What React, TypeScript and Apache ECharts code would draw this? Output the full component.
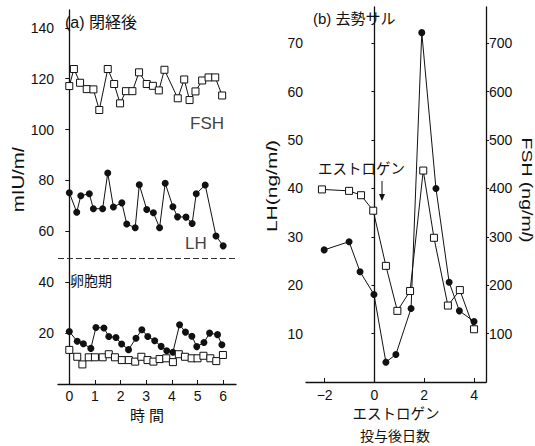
import React, { useEffect, useRef } from "react";
import * as echarts from "echarts";

// (a) post-menopause, hours
const postFshTime = [0, 0.18, 0.42, 0.68, 0.94, 1.17, 1.5, 1.75, 1.98, 2.21, 2.46, 2.72, 3.02, 3.26, 3.49, 3.71, 4.23, 4.48, 4.69, 4.92, 5.18, 5.43, 5.69, 5.96];
const postFshVals = [117.1, 123.8, 118.4, 115.9, 115.8, 107.7, 123.8, 117.9, 110.3, 115.1, 115.1, 122.5, 117.9, 117.2, 115.4, 123.5, 112.3, 119.7, 111.6, 115, 119.3, 120.5, 120.5, 113.4];
const postLhTime = [0, 0.29, 0.45, 0.78, 0.94, 1.3, 1.5, 1.72, 2.05, 2.24, 2.57, 2.73, 3.02, 3.28, 3.52, 3.74, 4.04, 4.22, 4.55, 4.79, 4.95, 5.3, 5.72, 6.0];
const postLhVals = [75.2, 67.5, 74.0, 74.8, 68.9, 68.9, 82.9, 69.6, 71.2, 62.9, 61.4, 78.3, 68.6, 67.3, 61.4, 78.9, 69.7, 65.7, 65.6, 63.1, 74.8, 78.2, 58.2, 54.3];
// (a) follicular phase
const follLhTime = [0, 0.31, 0.55, 0.84, 1.04, 1.35, 1.54, 1.82, 2.04, 2.31, 2.6, 2.83, 3.06, 3.33, 3.58, 3.8, 4.04, 4.3, 4.53, 4.78, 4.97, 5.25, 5.47, 5.78, 5.95];
const follLhVals = [20.6, 16.8, 15.8, 14.0, 22.2, 22.0, 18.7, 18.3, 15.7, 13.5, 18.0, 21.3, 18.7, 17.0, 14.8, 13.1, 12.5, 23.3, 20.4, 18.8, 14.7, 16.3, 20.0, 19.4, 15.4];
const follFshTime = [0, 0.31, 0.51, 0.76, 1.0, 1.3, 1.54, 1.78, 2.05, 2.32, 2.57, 2.81, 3.05, 3.28, 3.52, 3.78, 4.04, 4.27, 4.51, 4.77, 5.0, 5.23, 5.5, 5.73, 5.99];
const follFshVals = [13.4, 10.7, 7.7, 10.5, 10.5, 10.5, 11.7, 10.5, 9.4, 9.4, 8.8, 10.7, 9.4, 8.8, 9.8, 10.1, 8.6, 11.7, 10.7, 10.1, 10.1, 11.1, 10.1, 9.0, 11.4];
const breakLineValue = 49.5;
const leftXTicks = [0, 1, 2, 3, 4, 5, 6];
const leftYTicks = [20, 40, 60, 80, 100, 120, 140];

// (b) castrated monkey, days after estrogen
const castLhDays = [-2.02, -1.02, -0.58, -0.02, 0.46, 0.86, 1.47, 1.9, 2.47, 3.0, 3.41, 4.0];
const castLhVals = [27.3, 29.0, 22.8, 18.1, 4.1, 5.7, 15.2, 72.2, 40.0, 20.6, 14.7, 12.5];
const castFshDays = [-2.11, -1.02, -0.54, -0.05, 0.46, 0.92, 1.43, 1.96, 2.39, 2.95, 3.43, 4.0];
const castFshVals = [398, 395, 386, 354, 240, 147, 188, 437, 298, 158, 190, 109];
const rightXTicks = [-2, 0, 2, 4];
const lhTicks = [10, 20, 30, 40, 50, 60, 70];
const fshTicks = [100, 200, 300, 400, 500, 600, 700];

const NUM_FONT = "'Liberation Sans', Arial, sans-serif";
const JP_FONT = "'Liberation Sans', 'Noto Sans CJK JP', sans-serif";
const CJK_FONT = "'Noto Sans CJK JP', sans-serif";
const INK = "#111";

const pair = (xs: number[], ys: number[]) => xs.map((x, i) => [x, ys[i]]);

const circleSeries = (name: string, data: number[][], xAxisIndex: number, yAxisIndex: number) => ({
  name,
  type: "line",
  xAxisIndex,
  yAxisIndex,
  data,
  symbol: "circle",
  symbolSize: 7,
  itemStyle: { color: INK },
  lineStyle: { color: INK, width: 1 },
  z: 3,
});

const squareSeries = (name: string, data: number[][], xAxisIndex: number, yAxisIndex: number, extra: any = {}) => ({
  name,
  type: "line",
  xAxisIndex,
  yAxisIndex,
  data,
  symbol: "rect",
  symbolSize: 7,
  showAllSymbol: true,
  itemStyle: { color: "#fff", borderColor: INK, borderWidth: 1 },
  lineStyle: { color: INK, width: 1 },
  z: 4,
  ...extra,
});

const axisLine = { show: true, lineStyle: { color: INK, width: 1.3 } };

export default function App() {
  const ref = useRef<HTMLDivElement>(null);
  useEffect(() => {
    const chart = echarts.init(ref.current!, null, { renderer: "svg" });
    const option: any = {
      animation: false,
      backgroundColor: "#fff",
      grid: [
        { left: 58, top: 10, width: 178, height: 374 },
        { left: 306, top: 7, width: 180, height: 375 },
      ],
      xAxis: [
        {
          type: "value",
          gridIndex: 0,
          min: -0.44,
          max: 6.5,
          axisLine,
          axisTick: { show: true, inside: true, length: 4, customValues: leftXTicks, lineStyle: { color: INK } },
          axisLabel: { customValues: leftXTicks, fontSize: 14, margin: 5, color: INK, fontFamily: NUM_FONT },
          splitLine: { show: false },
        },
        {
          type: "value",
          gridIndex: 1,
          min: -2.75,
          max: 4.48,
          axisLine,
          axisTick: { show: true, inside: true, length: 4, customValues: rightXTicks, lineStyle: { color: INK } },
          axisLabel: {
            customValues: rightXTicks,
            fontSize: 14,
            margin: 6,
            color: INK,
            fontFamily: NUM_FONT,
            formatter: (v: number) => (v < 0 ? "\u2212" + Math.abs(v) : String(v)),
          },
          splitLine: { show: false },
        },
      ],
      yAxis: [
        {
          type: "value",
          gridIndex: 0,
          min: 0,
          max: 147,
          axisLine,
          axisTick: { show: true, length: 4, customValues: leftYTicks, lineStyle: { color: INK } },
          axisLabel: { customValues: leftYTicks, fontSize: 14, margin: 4, color: INK, fontFamily: NUM_FONT },
          splitLine: { show: false },
        },
        {
          type: "value",
          gridIndex: 1,
          position: "left",
          min: 0,
          max: 77.5,
          axisLine,
          axisTick: { show: true, length: 3, customValues: lhTicks, lineStyle: { color: INK } },
          axisLabel: { customValues: lhTicks, fontSize: 14, margin: 3, color: INK, fontFamily: NUM_FONT },
          splitLine: { show: false },
        },
        {
          type: "value",
          gridIndex: 1,
          position: "right",
          min: 0,
          max: 775,
          axisLine,
          axisTick: { show: true, length: 3, customValues: fshTicks, lineStyle: { color: INK } },
          axisLabel: { customValues: fshTicks, fontSize: 14, margin: 3, color: INK, fontFamily: NUM_FONT },
          splitLine: { show: false },
        },
      ],
      series: [
        squareSeries("FSH 閉経後", pair(postFshTime, postFshVals), 0, 0),
        circleSeries("LH 閉経後", pair(postLhTime, postLhVals), 0, 0),
        circleSeries("LH 卵胞期", pair(follLhTime, follLhVals), 0, 0),
        squareSeries("FSH 卵胞期", pair(follFshTime, follFshVals), 0, 0, {
          markLine: {
            silent: true,
            symbol: ["none", "none"],
            label: { show: false },
            lineStyle: { color: "#333", width: 1, type: [6, 3] },
            data: [{ yAxis: breakLineValue }],
          },
        }),
        circleSeries("LH 去勢サル", pair(castLhDays, castLhVals), 1, 1),
        squareSeries("FSH 去勢サル", pair(castFshDays, castFshVals), 1, 2),
      ],
      graphic: [
        { type: "text", z: 10, x: 65, y: 22, style: { text: "(a) 閉経後", fontSize: 16, fontFamily: JP_FONT, fill: INK, verticalAlign: "middle" } },
        { type: "text", z: 10, x: 190, y: 123, style: { text: "FSH", fontSize: 17, fontFamily: NUM_FONT, fill: "#444", verticalAlign: "middle" } },
        { type: "text", z: 10, x: 185, y: 243, style: { text: "LH", fontSize: 17, fontFamily: NUM_FONT, fill: "#444", verticalAlign: "middle" } },
        { type: "text", z: 10, x: 70, y: 280, style: { text: "卵胞期", fontSize: 14, fontFamily: CJK_FONT, fill: "#111111", verticalAlign: "middle" } },
        { type: "text", z: 10, x: 147, y: 415, style: { text: "時 間", fontSize: 15, fontFamily: JP_FONT, fill: INK, align: "center", verticalAlign: "middle" } },
        {
          type: "text", z: 10, x: 18, y: 180, rotation: Math.PI / 2, scaleX: 1.2,
          style: { text: "mIU/m{i|l}", fontSize: 17, fontFamily: NUM_FONT, fill: INK, align: "center", verticalAlign: "middle", rich: { i: { fontStyle: "italic", fontSize: 17, fontFamily: NUM_FONT } } },
        },
        { type: "text", z: 10, x: 313, y: 18, style: { text: "(b) 去勢サル", fontSize: 15, fontFamily: JP_FONT, fill: INK, verticalAlign: "middle" } },
        {
          type: "text", z: 10, x: 272, y: 186, rotation: Math.PI / 2, scaleX: 1.4,
          style: { text: "LH(ng/m{i|l})", fontSize: 15, fontFamily: NUM_FONT, fill: INK, align: "center", verticalAlign: "middle", rich: { i: { fontStyle: "italic", fontSize: 15, fontFamily: NUM_FONT } } },
        },
        {
          type: "text", z: 10, x: 527, y: 190, rotation: -Math.PI / 2, scaleX: 1.3,
          style: { text: "FSH (ng/m{i|l})", fontSize: 15, fontFamily: NUM_FONT, fill: INK, align: "center", verticalAlign: "middle", rich: { i: { fontStyle: "italic", fontSize: 15, fontFamily: NUM_FONT } } },
        },
        { type: "text", z: 10, x: 318, y: 169, style: { text: "エストロゲン", fontSize: 14.5, fontFamily: JP_FONT, fill: INK, verticalAlign: "middle" } },
        { type: "line", z: 10, shape: { x1: 382, y1: 181, x2: 382, y2: 196 }, style: { stroke: INK, lineWidth: 1 } },
        { type: "polygon", z: 10, shape: { points: [[379, 194], [385, 194], [382, 201]] }, style: { fill: INK } },
        { type: "text", z: 10, x: 396, y: 414, style: { text: "エストロゲン", fontSize: 14.5, fontFamily: JP_FONT, fill: INK, align: "center", verticalAlign: "middle" } },
        { type: "text", z: 10, x: 395, y: 436, style: { text: "投与後日数", fontSize: 14, fontFamily: JP_FONT, fill: INK, align: "center", verticalAlign: "middle" } },
      ],
    };
    chart.setOption(option);
    return () => chart.dispose();
  }, []);
  return <div ref={ref} style={{ position: "fixed", left: 0, top: 0, width: 535, height: 446 }} />;
}
